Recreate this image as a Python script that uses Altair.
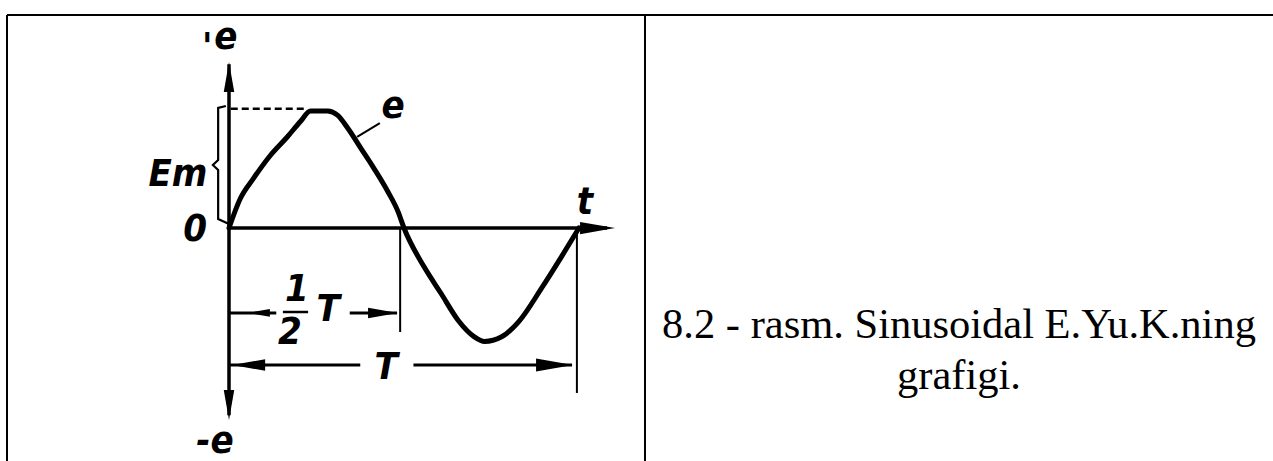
import altair as alt
import pandas as pd

# ---- e(t) over one period: t in units of T, e in units of Em ----
curve_t = [0.0, 0.032, 0.069, 0.118, 0.167, 0.204, 0.233, 0.282, 0.310, 0.339,
           0.376, 0.414, 0.454, 0.483, 0.5, 0.557, 0.606, 0.655, 0.701, 0.730,
           0.779, 0.828, 0.894, 0.951, 1.0]
curve_e = [0.0, 0.25, 0.42, 0.62, 0.78, 0.91, 1.0, 1.0, 0.965, 0.855,
           0.685, 0.51, 0.31, 0.14, 0.0, -0.33, -0.56, -0.79, -0.93, -0.97,
           -0.93, -0.80, -0.51, -0.24, 0.0]

# ---- diagram labels ----
label_text = ["e", "'", "e", "Em", "0", "t", "1", "2", "T", "T", "-e"]
label_t = [-0.009, -0.062, 0.469, -0.146, -0.097, 1.017, 0.194, 0.174, 0.283, 0.449, -0.040]
label_e = [1.624, 1.540, 1.034, 0.453, -0.017, 0.214, -0.530, -0.897, -0.701, -1.197, -1.829]

# ---- straight strokes: axes, dimension lines, drop lines, leader, fraction bar ----
seg_t = [0.0, 0.0, 0.0, 0.345, 0.0, 0.527, 0.489, 0.994, 0.366, 0.154]
seg_e = [-1.60, 0.0, -0.726, -0.726, -1.171, -1.171, 0.0, 0.0, 0.778, -0.718]
seg_t2 = [0.0, 1.08, 0.135, 0.480, 0.375, 0.980, 0.489, 0.994, 0.431, 0.226]
seg_e2 = [1.40, 0.0, -0.726, -0.726, -1.171, -1.171, -0.889, -1.410, 0.897, -0.718]
seg_w = [3.5, 3.5, 3.0, 3.0, 3.0, 3.0, 2.0, 2.0, 2.0, 2.5]

# ---- Em brace beside the e axis ----
brace_t = [-0.009, -0.031, -0.031, -0.046, -0.031, -0.031, 0.0]
brace_e = [1.043, 1.026, 0.581, 0.538, 0.496, 0.077, 0.034]

# ---- arrow heads (tip position, direction, length in px) ----
head_t = [0.0, 0.0, 1.103, 0.054, 0.483, 0.009, 0.983]
head_e = [1.419, -1.641, 0.0, -0.726, -0.726, -1.171, -1.171]
head_dir = ["up", "down", "right", "left", "right", "left", "right"]
head_len = [30, 30, 35, 22, 30, 33, 37]

# ---- caption ----
caption = ["8.2 - rasm. Sinusoidal E.Yu.K.ning", "grafigi."]

W, H = 1273, 461
X0, Y0 = 229, 228          # pixel position of the origin
T_PX, E_PX = 350, 117      # pixels per period / per Em

paths = {
    "up": "M0,0L0.35,2L-0.35,2Z",
    "down": "M0,0L0.35,-2L-0.35,-2Z",
    "right": "M0,0L-2,0.35L-2,-0.35Z",
    "left": "M0,0L2,0.35L2,-0.35Z",
}

xs = alt.Scale(domain=[-X0 / T_PX, (W - X0) / T_PX], nice=False, zero=False)
ys = alt.Scale(domain=[-(H - Y0) / E_PX, Y0 / E_PX], nice=False, zero=False)

curve_df = pd.DataFrame({"t": curve_t, "e": curve_e, "i": range(len(curve_t))})
seg_df = pd.DataFrame({"t": seg_t, "e": seg_e, "t2": seg_t2, "e2": seg_e2, "w": seg_w})
brace_df = pd.DataFrame({"t": brace_t, "e": brace_e, "i": range(len(brace_t))})
head_df = pd.DataFrame({
    "t": head_t, "e": head_e,
    "shape": [paths[d] for d in head_dir],
    "size": [l * l for l in head_len],
})
label_df = pd.DataFrame({"text": label_text, "t": label_t, "e": label_e})
dash_df = pd.DataFrame({"t": [0.005], "e": [1.02], "t2": [0.224]})

X = lambda f: alt.X(f, type="quantitative", scale=xs, axis=None)
Y = lambda f: alt.Y(f, type="quantitative", scale=ys, axis=None)

curve = alt.Chart(curve_df).mark_line(
    color="black", strokeWidth=5, interpolate="monotone", strokeCap="round", strokeJoin="round"
).encode(x=X("t"), y=Y("e"), order="i:O")

segs = alt.Chart(seg_df).mark_rule(color="black").encode(
    x=X("t"), y=Y("e"), x2="t2:Q", y2="e2:Q",
    strokeWidth=alt.StrokeWidth("w:Q", scale=None),
)

dashed = alt.Chart(dash_df).mark_rule(color="black", strokeWidth=2.5, strokeDash=[7, 4]).encode(
    x=X("t"), x2="t2:Q", y=Y("e")
)

brace = alt.Chart(brace_df).mark_line(color="black", strokeWidth=2.2).encode(
    x=X("t"), y=Y("e"), order="i:O"
)

heads = alt.Chart(head_df).mark_point(filled=True, color="black", opacity=1, strokeWidth=0).encode(
    x=X("t"), y=Y("e"),
    shape=alt.Shape("shape:N", scale=None),
    size=alt.Size("size:Q", scale=None),
)

labels = alt.Chart(label_df).mark_text(
    font="Liberation Sans Narrow, DejaVu Sans Condensed, Liberation Sans",
    fontStyle="italic", fontWeight="bold", fontSize=38, color="black",
    align="center", baseline="middle",
).encode(x=X("t"), y=Y("e"), text="text:N")

frame_df = pd.DataFrame({"x": [7, 7, 645], "x2": [W, 7, 645], "y": [15, 15, 15], "y2": [15, H, H]})
frame = alt.Chart(frame_df).mark_rule(color="black", strokeWidth=2).encode(
    x=alt.X("x:Q", scale=alt.Scale(domain=[0, W], range=[0, W]), axis=None),
    x2="x2:Q",
    y=alt.Y("y:Q", scale=alt.Scale(domain=[0, H], range=[0, H]), axis=None),
    y2="y2:Q",
)

cap = alt.Chart(pd.DataFrame({"c": [caption]})).mark_text(
    font="Liberation Serif", fontSize=42.5, color="black", align="center",
    baseline="alphabetic", lineHeight=51,
).encode(x=alt.value(959), y=alt.value(338), text="c")

chart = alt.layer(frame, dashed, segs, brace, curve, heads, labels, cap).resolve_scale(
    x="independent", y="independent"
).properties(
    width=W, height=H, autosize=alt.AutoSizeParams(type="none"), padding=0,
    background="white",
).configure_view(stroke=None)

chart.save("out.html", embed_options={"renderer": "svg", "actions": False})
